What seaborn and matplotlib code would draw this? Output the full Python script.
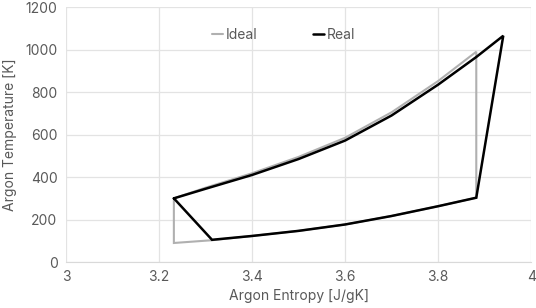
import pandas as pd
import matplotlib.pyplot as plt
import seaborn as sns

# cycle paths (entropy J/gK, temperature K), in drawing order
ideal_s = [3.232, 3.30, 3.40, 3.50, 3.60, 3.70, 3.80, 3.882,
           3.882, 3.80, 3.70, 3.60, 3.50, 3.40, 3.314, 3.232, 3.232]
ideal_T = [300, 350, 418, 495, 585, 705, 852, 990,
           303, 263, 217, 177, 147, 123, 103, 90, 300]

real_s = [3.232, 3.30, 3.40, 3.50, 3.60, 3.70, 3.80, 3.882, 3.940,
          3.882, 3.80, 3.70, 3.60, 3.50, 3.40, 3.314, 3.232]
real_T = [300, 345, 410, 485, 572, 690, 835, 965, 1065,
          303, 263, 217, 177, 147, 123, 105, 300]

x_ticks = [3, 3.2, 3.4, 3.6, 3.8, 4]
x_labels = ["3", "3.2", "3.4", "3.6", "3.8", "4"]
y_ticks = [0, 200, 400, 600, 800, 1000, 1200]

df = pd.concat([
    pd.DataFrame({"s": ideal_s, "T": ideal_T, "cycle": "Ideal"}),
    pd.DataFrame({"s": real_s, "T": real_T, "cycle": "Real"}),
])

sns.set_style("white")
plt.rcParams["font.family"] = ["Inter", "DejaVu Sans"]
text_col = "#595959"

fig = plt.figure(figsize=(5.36, 3.08), dpi=100)
ax = fig.add_axes([0.123, 0.149, 0.868, 0.828])

sns.lineplot(data=df, x="s", y="T", hue="cycle", sort=False, estimator=None,
             units="cycle", palette={"Ideal": "#b0b0b0", "Real": "#000000"},
             linewidth=1.6, ax=ax)
for line, lw in zip(ax.lines, [1.5, 1.8]):
    line.set_linewidth(lw)
    line.set_solid_joinstyle("miter")

ax.set_xlim(3, 4)
ax.set_ylim(0, 1200)
ax.set_xticks(x_ticks)
ax.set_xticklabels(x_labels)
ax.set_yticks(y_ticks)
ax.grid(True, color="#e3e3e3", linewidth=0.9)
for sp in ax.spines.values():
    sp.set_visible(False)
ax.spines["bottom"].set_visible(True)
ax.spines["bottom"].set_color("#d9d9d9")
ax.tick_params(colors=text_col, labelsize=10, length=0, pad=6)

ax.set_xlabel("Argon Entropy [J/gK]", color=text_col, fontsize=10, labelpad=3)
ax.set_ylabel("Argon Temperature [K]", color=text_col, fontsize=10, labelpad=6)

leg = ax.legend(loc="center", bbox_to_anchor=(0.467, 0.89), ncol=2, frameon=False,
                handlelength=0.8, handletextpad=0.2, columnspacing=4.0, fontsize=10)
for t in leg.get_texts():
    t.set_color(text_col)
for h, lw in zip(leg.get_lines(), [1.5, 1.8]):
    h.set_linewidth(lw)

plt.savefig("out.png", dpi=100)
plt.close()
